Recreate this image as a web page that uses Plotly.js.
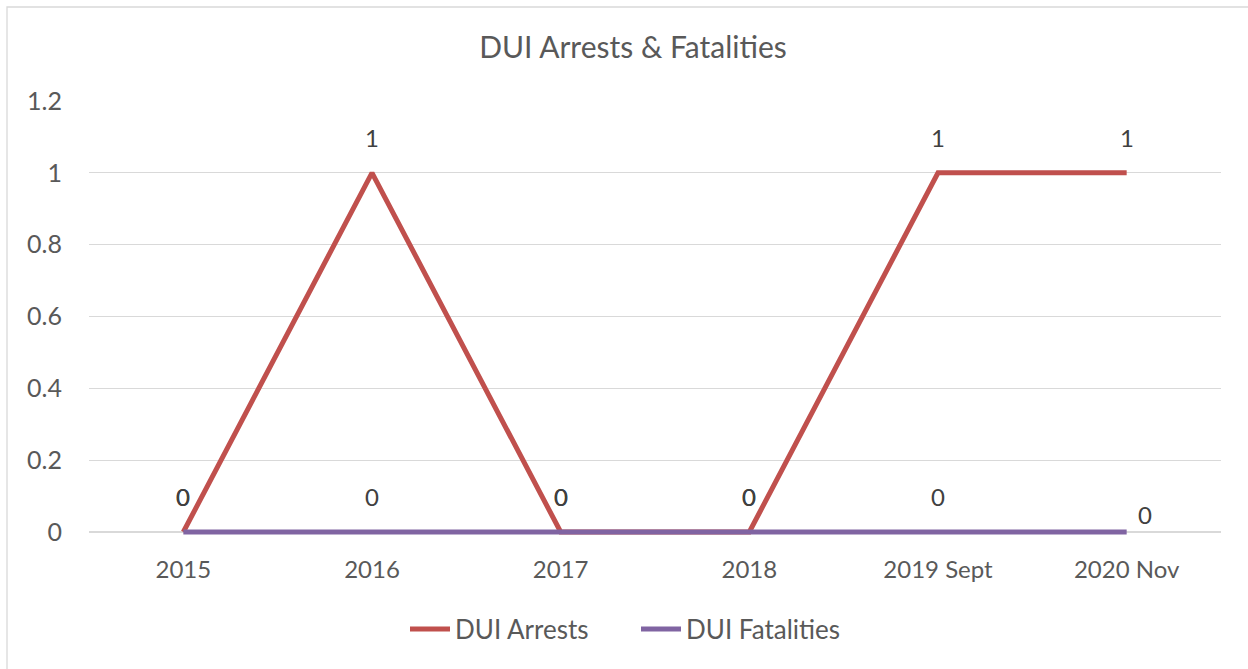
<!DOCTYPE html>
<html>
<head>
<meta charset="utf-8">
<script src="https://cdn.plot.ly/plotly-3.0.1.min.js"></script>
<style>
html,body{margin:0;padding:0;background:#fff;}
#chart{width:1248px;height:669px;}
</style>
</head>
<body>
<div id="chart"></div>
<script>
const categories = ["2015", "2016", "2017", "2018", "2019 Sept", "2020 Nov"];
const duiArrests = [0, 1, 0, 0, 1, 1];
const duiFatalities = [0, 0, 0, 0, 0, 0];
const seriesNames = ["DUI Arrests", "DUI Fatalities"];
const seriesColors = ["#C0504D", "#8064A2"];
const chartTitle = "DUI Arrests & Fatalities";

const FONT = "Lato, 'Open Sans', sans-serif";
const W = 1248, H = 669;
const margin = {l: 89, r: 27, t: 101, b: 133};
const pw = W - margin.l - margin.r;
const ph = H - margin.t - margin.b;
const yMin = -0.0112, yMax = 1.2;

const traces = [
  {x: categories, y: duiArrests, name: seriesNames[0], type: "scatter", mode: "lines",
   line: {color: seriesColors[0], width: 5}, hoverinfo: "x+y"},
  {x: categories, y: duiFatalities, name: seriesNames[1], type: "scatter", mode: "lines",
   line: {color: seriesColors[1], width: 5}, hoverinfo: "x+y"}
];

const labelFont = {family: FONT, size: 24, color: "#404040"};
const annotations = [];
// category axis: annotation x given as category index
categories.forEach((c, i) => {
  annotations.push({x: i, y: duiArrests[i], xref: "x", yref: "y", text: String(duiArrests[i]),
    showarrow: false, yshift: 35, font: labelFont});
});
categories.forEach((c, i) => {
  const last = i === categories.length - 1;
  annotations.push({x: i, y: duiFatalities[i], xref: "x", yref: "y", text: String(duiFatalities[i]),
    showarrow: false, yshift: last ? 17 : 35, xshift: last ? 18 : 0, font: labelFont});
});

const px2x = p => (p - margin.l) / pw;
const py2y = p => (H - margin.b - p) / ph;

const layout = {
  width: W, height: H,
  margin: margin,
  paper_bgcolor: "#ffffff", plot_bgcolor: "#ffffff",
  font: {family: FONT, color: "#595959", size: 24},
  title: {text: chartTitle, x: px2x(633), xref: "paper", xanchor: "center", y: 1 - 47/H, yanchor: "middle",
          font: {family: FONT, size: 30, color: "#595959"}},
  xaxis: {type: "category", range: [-0.5, 5.5], showgrid: false, zeroline: false,
          showline: false, ticks: "", ticklabelstandoff: 17,
          tickfont: {family: FONT, size: 24, color: "#595959"}, fixedrange: true},
  yaxis: {range: [yMin, yMax], dtick: 0.2, tick0: 0, showgrid: true, gridcolor: "#d9d9d9", gridwidth: 1.3,
          zeroline: false, showline: false, ticks: "", ticklabelstandoff: 26,
          tickfont: {family: FONT, size: 25, color: "#595959"}, fixedrange: true},
  showlegend: true,
  legend: {orientation: "h", x: px2x(636), xanchor: "center", y: py2y(629), yanchor: "middle",
           font: {family: FONT, size: 26, color: "#595959"}, itemwidth: 40,
           entrywidth: 176, entrywidthmode: "pixels", tracegroupgap: 0},
  annotations: annotations,
  shapes: [
    {type: "rect", xref: "paper", yref: "paper", x0: px2x(7), x1: px2x(1300), y0: py2y(700), y1: py2y(7),
     line: {color: "#d9d9d9", width: 1.3}, fillcolor: "rgba(0,0,0,0)", layer: "below"}
  ]
};

Plotly.newPlot("chart", traces, layout, {displayModeBar: false, staticPlot: true});
</script>
</body>
</html>
